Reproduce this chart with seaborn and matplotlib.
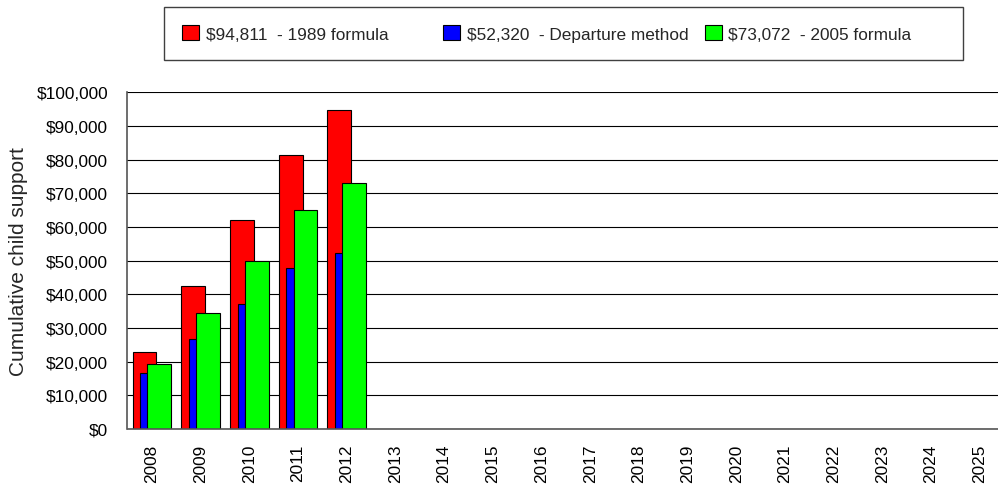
import matplotlib
matplotlib.use("Agg")
import matplotlib.pyplot as plt
import matplotlib.ticker as mticker
import seaborn as sns

# categories on the x axis
years = ["2008", "2009", "2010", "2011", "2012", "2013", "2014", "2015", "2016",
         "2017", "2018", "2019", "2020", "2021", "2022", "2023", "2024", "2025"]
data_years = ["2008", "2009", "2010", "2011", "2012"]

# cumulative child support per method
formula_1989 = [23000, 42500, 62000, 81500, 94811]
departure = [16500, 26700, 37200, 47700, 52320]
formula_2005 = [19200, 34400, 49800, 65000, 73072]

labels = ["$94,811  - 1989 formula", "$52,320  - Departure method", "$73,072  - 2005 formula"]
colors = ["#ff0000", "#0000ff", "#00ff00"]
# (bar width, shift from category centre) for each series, drawn in this order
bar_layout = [(0.49, -0.15), (0.16, -0.16), (0.49, 0.155)]

sns.set_theme(style="white")
plt.rcParams["font.family"] = ["Liberation Sans", "DejaVu Sans"]

fig = plt.figure(figsize=(9.98, 4.85), dpi=100)
ax = fig.add_axes([127.5 / 998, 55 / 485, 876.6 / 998, 336.7 / 485])
ax.set_axisbelow(True)

for vals, color, (width, shift) in zip([formula_1989, departure, formula_2005], colors, bar_layout):
    n = len(ax.patches)
    sns.barplot(x=data_years, y=vals, order=years, color=color, width=width, saturation=1,
                edgecolor="black", linewidth=0.8, errorbar=None, ax=ax)
    for p in ax.patches[n:]:
        p.set_x(p.get_x() + shift)

ax.set_xlim(-0.5, len(years) - 0.5)
ax.set_ylim(0, 100000)
ax.set_xlabel("")
ax.set_ylabel("Cumulative child support", fontsize=15)
ax.yaxis.set_label_coords(-0.1135, 0.5)

ax.yaxis.set_major_locator(mticker.MultipleLocator(10000))
ax.yaxis.set_major_formatter(mticker.StrMethodFormatter("${x:,.0f}"))
ax.yaxis.grid(True, color="black", linewidth=0.8)

ax.set_xticks(range(len(years)))
ax.set_xticklabels(years, rotation=90)
ax.set_xticks([i - 0.5 for i in range(len(years) + 1)], minor=True)
ax.tick_params(axis="x", which="major", length=0, pad=10.5, labelsize=12.4, labelcolor="black")
ax.tick_params(axis="x", which="minor", length=8, width=1, direction="inout", color="#555555")
ax.tick_params(axis="y", which="major", length=7, width=1, direction="inout", pad=10.5,
               labelsize=12.4, labelcolor="black", color="#555555")

for side in ["top", "right"]:
    ax.spines[side].set_visible(False)
for side in ["left", "bottom"]:
    ax.spines[side].set_color("#555555")
    ax.spines[side].set_linewidth(1.2)

# Excel-style legend uses fixed-width columns; pad labels with no-break spaces
leg_labels = [labels[0] + "\u00a0" * 8, labels[1], labels[2] + "\u00a0" * 7]
handles = [c.patches[0] for c in ax.containers[:3]]
leg = fig.legend(handles, leg_labels, ncol=3, loc="upper left",
                 bbox_to_anchor=(164 / 998, 1 - 8 / 485),
                 fontsize=12.4, frameon=True, fancybox=False, framealpha=1,
                 edgecolor="#404040", borderpad=1.07, handlelength=0.97, handleheight=0.93,
                 handletextpad=0.39, columnspacing=0.97, borderaxespad=0)
leg.get_frame().set_linewidth(1)

fig.savefig("out.png", dpi=100)
